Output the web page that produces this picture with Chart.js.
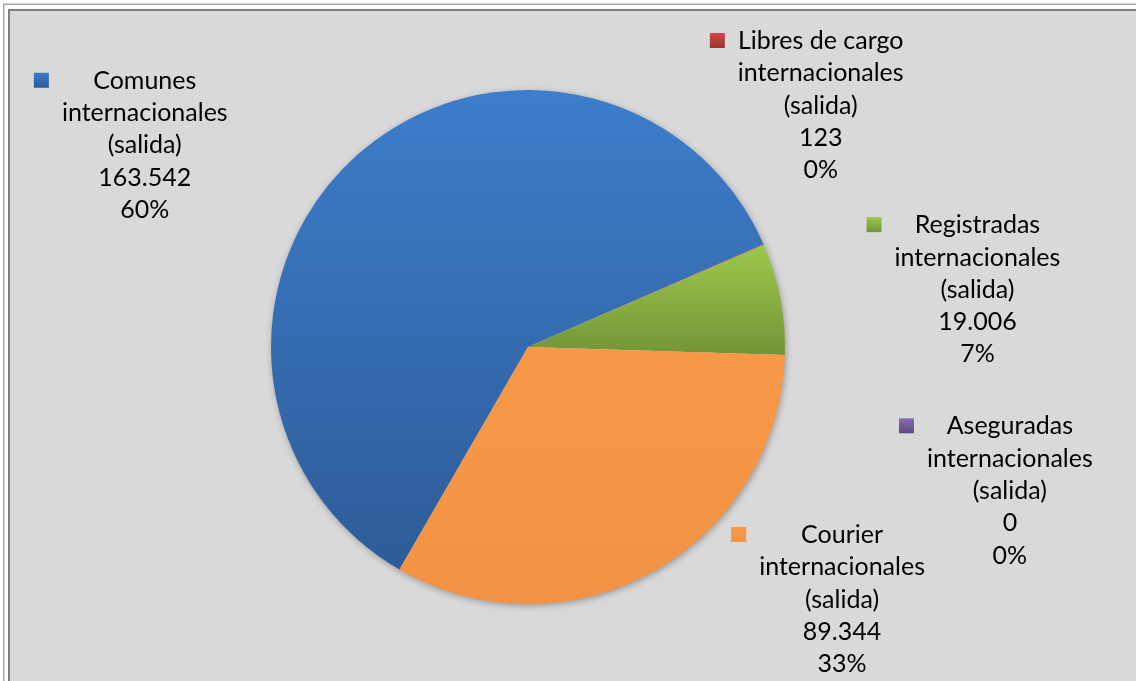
<!DOCTYPE html>
<html>
<head>
<meta charset="utf-8">
<script src="https://cdn.jsdelivr.net/npm/chart.js@4/dist/chart.umd.min.js"></script>
<style>
  html, body { margin: 0; padding: 0; background: #fff; }
  canvas { display: block; }
</style>
</head>
<body>
<canvas id="myChart" width="1136" height="681"></canvas>
<script>
// data
const categories = [
  ["Comunes", "internacionales", "(salida)"],
  ["Libres de cargo", "internacionales", "(salida)"],
  ["Registradas", "internacionales", "(salida)"],
  ["Aseguradas", "internacionales", "(salida)"],
  ["Courier", "internacionales", "(salida)"]
];
const values = [163542, 123, 19006, 0, 89344];

// styles
const colorsTop = ["#3d7dcb", "#d04a47", "#9dc84b", "#8a6cb0", "#f79847"];
const colorsBottom = ["#2d5c98", "#9c3330", "#739538", "#5f4a80", "#f39244"];
// label block centre, relative to the outer point of each slice's middle
const labelOffsets = [[-212, -10], [57, -139], [197, -9], [225, 136], [189, 28]];

const ROTATION = -150;
const total = values.reduce((a, b) => a + b, 0);
const fontSpec = "25px Lato";
const lineH = 32.3;

function sliceExtent(chart, i) {
  const area = chart.chartArea;
  const cy = (area.top + area.bottom) / 2;
  const r = Math.min(area.right - area.left, area.bottom - area.top) / 2;
  let a = (ROTATION - 90) * Math.PI / 180;
  for (let k = 0; k < i; k++) a += values[k] / total * Math.PI * 2;
  const b = a + values[i] / total * Math.PI * 2;
  let lo = cy, hi = cy;
  for (let t = 0; t <= 60; t++) {
    const y = cy + Math.sin(a + (b - a) * t / 60) * r;
    lo = Math.min(lo, y);
    hi = Math.max(hi, y);
  }
  return [lo, hi];
}

function sliceFill(c) {
  const chart = c.chart;
  const i = c.dataIndex;
  if (!chart.chartArea) return colorsTop[i];
  const [lo, hi] = sliceExtent(chart, i);
  const g = chart.ctx.createLinearGradient(0, lo, 0, Math.max(hi, lo + 1));
  g.addColorStop(0, colorsTop[i]);
  g.addColorStop(1, colorsBottom[i]);
  return g;
}

const framePlugin = {
  id: "frame",
  beforeDraw(chart) {
    const ctx = chart.ctx;
    ctx.save();
    ctx.fillStyle = "#ffffff";
    ctx.fillRect(0, 0, chart.width, chart.height);
    ctx.strokeStyle = "#a6a6a6";
    ctx.lineWidth = 1.5;
    ctx.strokeRect(3.75, 4.25, chart.width + 10, chart.height + 10);
    ctx.fillStyle = "#d9d9d9";
    ctx.fillRect(8, 9, chart.width, chart.height);
    ctx.strokeStyle = "#7f7f7f";
    ctx.lineWidth = 2;
    ctx.strokeRect(9, 10, chart.width + 10, chart.height + 10);
    ctx.restore();
  },
  beforeDatasetsDraw(chart) {
    const arc = chart.getDatasetMeta(0).data[0];
    if (!arc) return;
    const ctx = chart.ctx;
    ctx.save();
    ctx.shadowColor = "rgba(0,0,0,0.35)";
    ctx.shadowBlur = 7;
    ctx.shadowOffsetX = 1;
    ctx.shadowOffsetY = 2;
    ctx.fillStyle = "#d9d9d9";
    ctx.beginPath();
    ctx.arc(arc.x, arc.y, arc.outerRadius - 0.5, 0, Math.PI * 2);
    ctx.fill();
    ctx.restore();
  }
};

const labelPlugin = {
  id: "sliceLabels",
  afterDatasetsDraw(chart) {
    const ctx = chart.ctx;
    const arcs = chart.getDatasetMeta(0).data;
    ctx.save();
    ctx.font = fontSpec;
    ctx.textAlign = "center";
    ctx.textBaseline = "middle";
    arcs.forEach((arc, i) => {
      const p = arc.getProps(["x", "y", "startAngle", "endAngle", "outerRadius"], true);
      const mid = (p.startAngle + p.endAngle) / 2;
      const cx = p.x + Math.cos(mid) * p.outerRadius + labelOffsets[i][0];
      const cy = p.y + Math.sin(mid) * p.outerRadius + labelOffsets[i][1];
      const lines = categories[i].concat([
        values[i].toLocaleString("es-ES", { useGrouping: true }).replace(/\s/g, "."),
        Math.round(values[i] / total * 100) + "%"
      ]);
      const y0 = cy - (lines.length - 1) / 2 * lineH;
      const maxW = Math.max(...lines.map(l => ctx.measureText(l).width));
      // legend key
      const kx = cx - maxW / 2 - 28;
      const ky = y0 - 8;
      const g = ctx.createLinearGradient(0, ky, 0, ky + 15);
      g.addColorStop(0, colorsTop[i]);
      g.addColorStop(1, colorsBottom[i]);
      ctx.fillStyle = g;
      ctx.fillRect(kx, ky, 15, 15);
      ctx.fillStyle = "#000000";
      lines.forEach((l, k) => ctx.fillText(l, cx, y0 + k * lineH));
    });
    ctx.restore();
  }
};

const ctx = document.getElementById("myChart").getContext("2d");

const myPieChart = new Chart(ctx, {
  type: "pie",
  data: {
    labels: categories.map(c => c.join(" ")),
    datasets: [{
      data: values,
      backgroundColor: sliceFill,
      borderWidth: 0
    }]
  },
  options: {
    responsive: false,
    animation: false,
    rotation: ROTATION,
    layout: { padding: { left: 271, right: 351, top: 90, bottom: 77 } },
    plugins: {
      legend: { display: false },
      tooltip: { enabled: false }
    }
  },
  plugins: [framePlugin, labelPlugin]
});
</script>
</body>
</html>
